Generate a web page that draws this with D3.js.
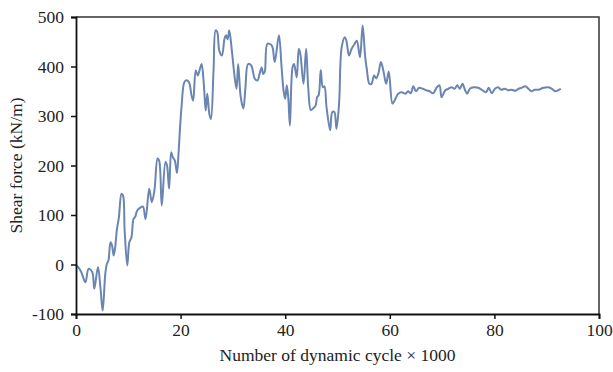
<!DOCTYPE html>
<html>
<head>
<meta charset="utf-8">
<script src="https://cdn.jsdelivr.net/npm/d3@7"></script>
<style>
  body { margin: 0; background: #fff; }
  text { font-family: "Liberation Serif", "Times New Roman", serif; }
</style>
</head>
<body>
<svg id="chart"></svg>
<script>
// cycle count (x 1000)
const cycles = [
  0, 0.4, 1.0, 1.8, 2.4, 3.1, 3.5, 4.2, 4.7, 5.1,
  5.6, 5.9, 6.2, 6.6, 6.9, 7.2, 7.5, 7.8, 8.2, 8.7,
  9.0, 9.3, 9.8, 10.2, 10.6, 11.0, 11.3, 11.7, 12.3, 12.8,
  13.3, 14.0, 14.5, 15.0, 15.6, 15.9, 16.4, 17.1, 17.4, 17.8,
  18.2, 18.5, 18.9, 19.3, 19.6, 19.9, 20.2, 20.7, 21.1, 21.6,
  22.1, 22.4, 22.9, 23.3, 24.0, 24.4, 24.8, 25.1, 25.5, 25.8,
  26.3, 26.7, 27.0, 27.4, 27.9, 28.4, 28.7, 29.0, 29.3, 29.8,
  30.3, 30.7, 31.0, 31.5, 32.0, 32.4, 32.9, 33.5, 34.2, 34.7,
  35.1, 35.5, 35.8, 36.1, 36.6, 37.3, 37.6, 38.0, 38.8, 39.3,
  39.7, 40.0, 40.3, 40.6, 40.9, 41.4, 41.7, 42.2, 42.6, 42.9,
  43.5, 44.0, 44.4, 44.9, 45.3, 45.8, 46.1, 46.4, 46.8, 47.2,
  47.5, 47.9, 48.6, 49.0, 49.4, 49.8, 50.3, 50.8, 51.4, 51.7,
  52.2, 52.7, 53.3, 53.7, 54.3, 54.8, 55.3, 55.6, 56.1, 56.5,
  57.0, 57.4, 57.8, 58.3, 58.8, 59.3, 59.8, 60.5, 60.9, 61.6,
  62.3, 63.0, 63.5, 64.0, 64.5, 65.0, 65.6, 66.3, 67.0, 67.6,
  68.3, 69.0, 69.5, 69.9, 70.6, 71.2, 71.8, 72.4, 72.9, 73.4,
  73.9, 74.4, 74.8, 75.3, 76.1, 76.9, 77.6, 78.4, 78.9, 79.5,
  80.1, 80.7, 81.3, 82.0, 82.6, 83.3, 84.0, 84.6, 85.2, 85.9,
  86.5, 87.1, 87.7, 88.4, 89.4, 90.3, 91.0, 91.6, 92.2, 92.7
];
// shear force (kN/m)
const shear = [
  -2, -5, -15, -36, -9, -15, -49, -5, -50, -93,
  -19, 1, 8, 45, 38, 18, 35, 69, 95, 143,
  139, 69, -2, 45, 55, 92, 96, 109, 115, 117,
  92, 153, 126, 150, 214, 210, 119, 207, 200, 153,
  227, 217, 210, 185, 224, 277, 321, 368, 372, 368,
  341, 331, 392, 382, 405, 370, 311, 345, 304, 294,
  392, 473, 470, 432, 422, 456, 463, 455, 473, 432,
  382, 355, 405, 338, 315, 358, 405, 402, 375, 372,
  385, 398, 385, 390, 446, 444, 438, 409, 463, 400,
  350, 335, 362, 335, 281, 398, 405, 378, 436, 425,
  365, 436, 358, 312, 315, 321, 338, 342, 393, 358,
  360, 318, 271, 308, 308, 274, 325, 439, 459, 452,
  422, 436, 446, 452, 419, 483, 419, 395, 365, 365,
  382, 376, 385, 409, 390, 365, 390, 325, 331, 345,
  348, 345, 350, 346, 360, 350, 357, 355, 352, 350,
  346, 358, 362, 338, 352, 355, 358, 355, 362, 355,
  365, 352, 345, 355, 358, 357, 353, 348, 357, 346,
  355, 358, 353, 355, 352, 353, 351, 355, 357, 360,
  355, 350, 353, 353, 357, 358, 355, 350, 352, 355
];
const xTicks = [0, 20, 40, 60, 80, 100];
const yTicks = [-100, 0, 100, 200, 300, 400, 500];

const width = 613, height = 372;
const margin = { top: 17, right: 14, bottom: 58, left: 76 };

const svg = d3.select('#chart')
  .attr('width', width)
  .attr('height', height);

const x = d3.scaleLinear().domain([0, 100]).range([margin.left, width - margin.right]);
const y = d3.scaleLinear().domain([-100, 500]).range([height - margin.bottom, margin.top]);

// top / right frame
svg.append('path')
  .attr('d', `M${x(0)},${y(500)}H${x(100)}V${y(-100)}`)
  .attr('fill', 'none')
  .attr('stroke', '#333')
  .attr('stroke-width', 1.5);

// data line
const line = d3.line()
  .x((d, i) => x(cycles[i]))
  .y(d => y(d))
  .curve(d3.curveCatmullRom.alpha(0.5));

svg.append('path')
  .datum(shear)
  .attr('d', line)
  .attr('fill', 'none')
  .attr('stroke', '#6a85b1')
  .attr('stroke-width', 2)
  .attr('stroke-linejoin', 'round');

// axes
const xAxis = svg.append('g')
  .attr('transform', `translate(0,${y(-100)})`)
  .call(d3.axisBottom(x).tickValues(xTicks).tickSize(5).tickPadding(5).tickFormat(d => String(d)));

const yAxis = svg.append('g')
  .attr('transform', `translate(${x(0)},0)`)
  .call(d3.axisLeft(y).tickValues(yTicks).tickSize(5).tickPadding(7).tickFormat(d => String(d)));

[xAxis, yAxis].forEach(g => {
  g.select('.domain').attr('stroke', '#111').attr('stroke-width', 1.8);
  g.selectAll('.tick line').attr('stroke', '#111').attr('stroke-width', 1.5);
  g.selectAll('.tick text')
    .attr('fill', '#222')
    .style('font-size', '17.5px')
    .style('font-family', '"Liberation Serif", serif');
});

// axis titles
svg.append('text')
  .attr('x', (x(0) + x(100)) / 2)
  .attr('y', 361)
  .attr('text-anchor', 'middle')
  .attr('fill', '#222')
  .style('font-size', '17.5px')
  .text('Number of dynamic cycle × 1000');

svg.append('text')
  .attr('transform', `translate(22,${(y(-100) + y(500)) / 2}) rotate(-90)`)
  .attr('text-anchor', 'middle')
  .attr('fill', '#222')
  .style('font-size', '17.5px')
  .text('Shear force (kN/m)');
</script>
</body>
</html>
